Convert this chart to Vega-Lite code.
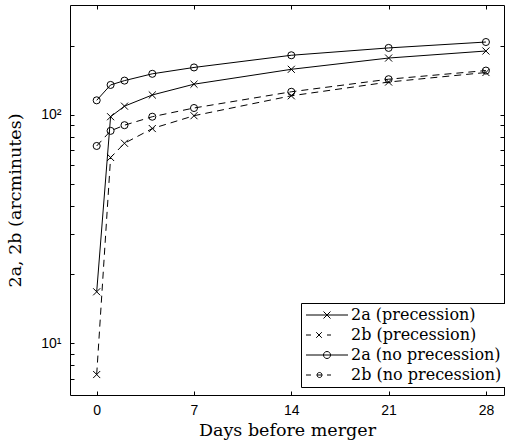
{
  "$schema": "https://vega.github.io/schema/vega-lite/v6.json",
  "autosize": {"type": "none"},
  "padding": {"left": 70, "top": 5, "right": 1, "bottom": 48},
  "width": 434,
  "height": 390,
  "background": "white",
  "config": {
    "view": {"stroke": "black", "strokeWidth": 1},
    "axis": {
      "grid": false,
      "domain": false,
      "tickColor": "black",
      "tickSize": -4,
      "tickWidth": 1,
      "labelFont": "Liberation Sans",
      "labelFontSize": 14,
      "labelColor": "black",
      "titleFont": "DejaVu Serif",
      "titleFontSize": 17.5,
      "titleFontWeight": "normal",
      "titleColor": "black"
    }
  },
  "data": {
    "values": [
      {"day": 0, "series": "2a (precession)", "value": 16.8},
      {"day": 1, "series": "2a (precession)", "value": 98},
      {"day": 2, "series": "2a (precession)", "value": 109},
      {"day": 4, "series": "2a (precession)", "value": 122},
      {"day": 7, "series": "2a (precession)", "value": 136},
      {"day": 14, "series": "2a (precession)", "value": 158},
      {"day": 21, "series": "2a (precession)", "value": 177},
      {"day": 28, "series": "2a (precession)", "value": 190},
      {"day": 0, "series": "2b (precession)", "value": 7.3},
      {"day": 1, "series": "2b (precession)", "value": 65},
      {"day": 2, "series": "2b (precession)", "value": 75},
      {"day": 4, "series": "2b (precession)", "value": 87},
      {"day": 7, "series": "2b (precession)", "value": 99},
      {"day": 14, "series": "2b (precession)", "value": 121},
      {"day": 21, "series": "2b (precession)", "value": 139},
      {"day": 28, "series": "2b (precession)", "value": 153},
      {"day": 0, "series": "2a (no precession)", "value": 115.6},
      {"day": 1, "series": "2a (no precession)", "value": 135},
      {"day": 2, "series": "2a (no precession)", "value": 141},
      {"day": 4, "series": "2a (no precession)", "value": 151},
      {"day": 7, "series": "2a (no precession)", "value": 161},
      {"day": 14, "series": "2a (no precession)", "value": 182},
      {"day": 21, "series": "2a (no precession)", "value": 196},
      {"day": 28, "series": "2a (no precession)", "value": 208},
      {"day": 0, "series": "2b (no precession)", "value": 73},
      {"day": 1, "series": "2b (no precession)", "value": 85},
      {"day": 2, "series": "2b (no precession)", "value": 90},
      {"day": 4, "series": "2b (no precession)", "value": 98},
      {"day": 7, "series": "2b (no precession)", "value": 107},
      {"day": 14, "series": "2b (no precession)", "value": 126},
      {"day": 21, "series": "2b (no precession)", "value": 143},
      {"day": 28, "series": "2b (no precession)", "value": 156}
    ]
  },
  "layer": [
    {
      "transform": [{"filter": "indexof(datum.series, '2a') === 0"}],
      "mark": {"type": "line", "color": "black", "strokeWidth": 1},
      "encoding": {
        "x": {
          "field": "day", "type": "quantitative",
          "scale": {"domain": [-1.92, 29.3], "nice": false, "zero": false},
          "axis": {"values": [0, 7, 14, 21, 28], "title": "Days before merger", "labelPadding": 12, "titlePadding": 4, "orient": "bottom"}
        },
        "y": {
          "field": "value", "type": "quantitative",
          "scale": {"type": "log", "domain": [5.94, 302], "nice": false},
          "axis": {
            "values": [7, 8, 9, 10, 20, 30, 40, 50, 60, 70, 80, 90, 100, 200],
            "labelExpr": "datum.value == 10 ? '10¹' : datum.value == 100 ? '10²' : ''",
            "title": "2a, 2b (arcminutes)",
            "labelPadding": 13,
            "titlePadding": 16,
            "orient": "left"
          }
        },
        "detail": {"field": "series"}
      }
    },
    {
      "transform": [{"filter": "indexof(datum.series, '2b') === 0"}],
      "mark": {"type": "line", "color": "black", "strokeWidth": 1, "strokeDash": [7, 5]},
      "encoding": {
        "x": {"field": "day", "type": "quantitative", "axis": null},
        "y": {"field": "value", "type": "quantitative", "axis": null},
        "detail": {"field": "series"}
      }
    },
    {
      "transform": [{"filter": "indexof(datum.series, 'no precession') < 0"}],
      "mark": {"type": "point", "filled": false, "color": "black", "strokeWidth": 1, "size": 50, "opacity": 1, "shape": "M-1,-1L1,1M-1,1L1,-1"},
      "encoding": {
        "x": {
          "field": "day", "type": "quantitative",
          "axis": {"values": [0, 7, 14, 21, 28], "labels": false, "title": null, "orient": "top"}
        },
        "y": {
          "field": "value", "type": "quantitative",
          "axis": {"values": [7, 8, 9, 10, 20, 30, 40, 50, 60, 70, 80, 90, 100, 200], "labels": false, "title": null, "orient": "right"}
        }
      }
    },
    {
      "transform": [{"filter": "indexof(datum.series, 'no precession') >= 0"}],
      "mark": {"type": "point", "filled": false, "color": "black", "strokeWidth": 1, "size": 50, "opacity": 1, "shape": "circle"},
      "encoding": {
        "x": {"field": "day", "type": "quantitative", "axis": null},
        "y": {"field": "value", "type": "quantitative", "axis": null}
      }
    },
    {
      "mark": {"type": "point", "filled": false, "color": "black", "strokeWidth": 1, "opacity": 0},
      "encoding": {
        "x": {"field": "day", "type": "quantitative", "axis": null},
        "y": {"field": "value", "type": "quantitative", "axis": null},
        "shape": {
          "field": "series", "type": "nominal",
          "scale": {
            "domain": ["2a (precession)", "2b (precession)", "2a (no precession)", "2b (no precession)"],
            "range": [
              "M-1,0H5M1.5,-0.5L2.5,0.5M1.5,0.5L2.5,-0.5",
              "M-1,0H-0.29M0.46,-0.4L1.26,0.4M0.46,0.4L1.26,-0.4M2,0H2.57",
              "M-1,0H5M1.5,0A0.5,0.5 0 1,1 2.5,0A0.5,0.5 0 1,1 1.5,0",
              "M-1,0H-0.29M0.57,0A0.36,0.36 0 1,1 1.29,0A0.36,0.36 0 1,1 0.57,0M0.57,0H1.29M2,0H2.57"
            ]
          },
          "legend": {
            "title": null,
            "orient": "none",
            "legendX": 231,
            "legendY": 298,
            "strokeColor": "black",
            "fillColor": "white",
            "padding": 4,
            "symbolSize": 196,
            "symbolOpacity": 1,
            "symbolStrokeWidth": 1,
            "symbolStrokeColor": "black",
            "symbolFillColor": "transparent",
            "labelFont": "DejaVu Serif",
            "labelFontSize": 16,
            "labelColor": "black",
            "labelOffset": 30,
            "rowPadding": 4
          }
        }
      }
    }
  ],
  "resolve": {"axis": {"x": "independent", "y": "independent"}}
}
